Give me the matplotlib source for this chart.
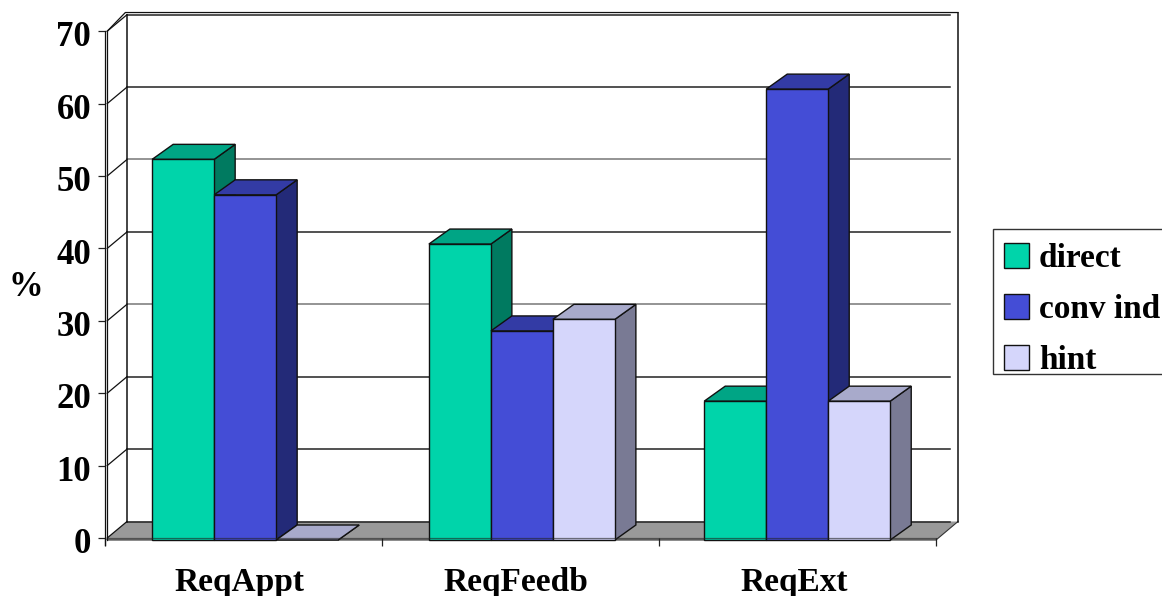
import matplotlib
matplotlib.use("Agg")
import matplotlib.pyplot as plt
from matplotlib.patches import Patch, Rectangle
from matplotlib.transforms import IdentityTransform, ScaledTranslation

# -----------------------------
# Data
# -----------------------------
CATEGORIES = ["ReqAppt", "ReqFeedb", "ReqExt"]
Y_TICKS = [0, 10, 20, 30, 40, 50, 60, 70]
SERIES_NAMES = ["direct", "conv ind", "hint"]
DIRECT = [52.3, 40.6, 18.9]
CONV_IND = [47.4, 28.6, 62.0]
HINT = [0, 30.2, 18.9]

# -----------------------------
# Styling
# -----------------------------
W, H = 1162, 596
FRONT = ["#00D4AA", "#444DD6", "#D5D6FB"]
TOP = ["#00A585", "#333BA5", "#A8AACB"]
SIDE = ["#007A60", "#232A78", "#797A94"]
FLOOR = "#999999"
LINE = "#111111"

PX_X = 277.0          # pixels per category
PX_Y = 7.24           # pixels per percent
DX, DY = 22 / PX_X, 16.5 / PX_Y      # wall depth
BAR_DX, BAR_DY = 21 / PX_X, 15 / PX_Y  # bar depth
BASE = -2 / PX_Y      # floor front edge sits just under the zero line
BAR_W = 62 / PX_X
CENTERS = [0.506, 1.505, 2.499]
LABEL_X = [0.485, 1.482, 2.487]

plt.rcParams["font.family"] = ["Liberation Serif", "DejaVu Serif"]
plt.rcParams["font.weight"] = "bold"
plt.rcParams["font.size"] = 24

fig = plt.figure(figsize=(W / 100, H / 100), dpi=100)
ax = fig.add_axes([105 / W, (H - 538) / H, 3 * PX_X / W, 70 * PX_Y / H])
ax.set_xlim(0, 3)
ax.set_ylim(0, 70)
ax.patch.set_visible(False)

# -----------------------------
# Walls and floor
# -----------------------------
ax.fill([0, 3, 3 + DX, DX], [BASE, BASE, DY, DY], color=FLOOR, zorder=1, clip_on=False, lw=0)
ax.plot([0.01, 3, 3 + DX], [BASE, BASE, DY], color="#333333", lw=0.8, zorder=1, clip_on=False)

for y in Y_TICKS:
    shade = "#777777" if y in (30, 50) else "#222222"
    ax.plot([DX, 3 + DX - 0.03], [y + DY, y + DY], color=shade, lw=1.1, zorder=1, clip_on=False)
    ax.plot([0.008, DX], [y, y + DY], color=LINE, lw=0.9, zorder=1, clip_on=False)

ax.plot([DX, DX], [DY, 70 + DY], color=LINE, lw=1.1, zorder=1, clip_on=False)
ax.plot([3 + DX, 3 + DX], [DY, 70 + DY + 0.2], color=LINE, lw=1.1, zorder=1, clip_on=False)
ax.plot([0.008, 0.008], [BASE, 70], color=LINE, lw=0.9, zorder=1, clip_on=False)
ax.plot([0.008, DX - 0.006, 3 + DX], [70, 70 + DY + 0.3, 70 + DY + 0.3],
        color=LINE, lw=0.9, zorder=1, clip_on=False)

# -----------------------------
# Bars
# -----------------------------
series = [DIRECT, CONV_IND, HINT]
for c, center in enumerate(CENTERS):
    for s, values in enumerate(series):
        v = values[c] if values[c] > 0 else BASE
        x0 = center + (s - 1.5) * BAR_W
        x1 = x0 + BAR_W
        # side, top, then front so the next bar covers this one
        ax.fill([x1, x1 + BAR_DX, x1 + BAR_DX, x1],
                [BASE, BASE + BAR_DY, v + BAR_DY, v],
                facecolor=SIDE[s], edgecolor=LINE, lw=1, zorder=2 + s, clip_on=False)
        ax.fill([x0, x1, x1 + BAR_DX, x0 + BAR_DX],
                [v, v, v + BAR_DY, v + BAR_DY],
                facecolor=TOP[s], edgecolor=LINE, lw=1, zorder=2 + s, clip_on=False)
        if v > 0:
            ax.bar(x0, v - BASE, BAR_W, bottom=BASE, align="edge", color=FRONT[s],
                   edgecolor=LINE, lw=1, zorder=2 + s, clip_on=False)

# zero line shows faintly through the bars
ax.plot([0.01, 3], [0, 0], color="#222222", lw=0.9, alpha=0.6, zorder=8, clip_on=False)

# -----------------------------
# Axes and labels
# -----------------------------
for name in ["top", "right", "bottom"]:
    ax.spines[name].set_visible(False)
ax.spines["left"].set_linewidth(0.9)
ax.spines["left"].set_color(LINE)
ax.spines["left"].set_bounds(-1.0, 70)

ax.set_yticks(Y_TICKS)
ax.tick_params(axis="y", length=5, width=0.9, pad=5, color="#222222", labelsize=25)
nudge = ScaledTranslation(0, -2 / 72, fig.dpi_scale_trans)
for label in ax.get_yticklabels():
    label.set_fontweight("bold")
    label.set_transform(label.get_transform() + nudge)

ax.set_xticks([0, 1, 2, 3])
ax.set_xticklabels([])
ax.tick_params(axis="x", length=6, width=0.9, color="#222222", direction="out")

for x, name in zip(LABEL_X, CATEGORIES):
    ax.annotate(name, xy=(x, 0), xytext=(0, -32), textcoords="offset points",
                ha="center", va="center", annotation_clip=False)

fig.text(26 / W, 1 - 288 / H, "%", ha="center", va="center", fontsize=25)

# legend frame runs off the right edge of the picture
ax.add_patch(Rectangle((993, H - 374), 200, 145, transform=IdentityTransform(),
                       facecolor="white", edgecolor="#333333", lw=1, zorder=9, clip_on=False))
handles = [Patch(facecolor=FRONT[i], edgecolor=LINE, lw=1) for i in range(3)]
leg = ax.legend(handles, SERIES_NAMES, loc="upper left",
                bbox_to_anchor=(1004, H - 243), bbox_transform=IdentityTransform(),
                fontsize=24, frameon=False, borderaxespad=0, borderpad=0,
                handlelength=0.75, handleheight=0.75, handletextpad=0.3, labelspacing=0.6)
leg.set_zorder(10)

fig.savefig("out.png", dpi=100)
